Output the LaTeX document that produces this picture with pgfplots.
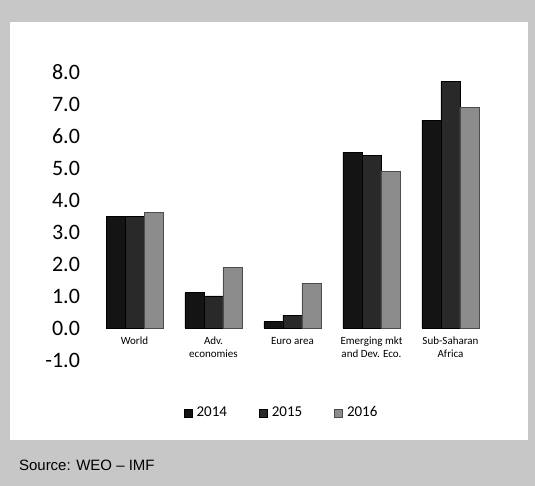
\documentclass[border=0pt]{standalone}
\usepackage{pgfplots}
\pgfplotsset{compat=1.18}
\usepackage{fontspec}
\setmainfont{Carlito}
\newfontfamily\arial{Liberation Sans}

\definecolor{cA}{gray}{0.08}
\definecolor{cB}{gray}{0.16}
\definecolor{cC}{gray}{0.55}
\definecolor{noise}{gray}{0.78}

\begin{document}
\begin{tikzpicture}
  % page frame: grey scanned border and white chart area
  \fill[noise] (0,0) rectangle (267.5pt,243pt);
  \fill[white] (5pt,23pt) rectangle (264pt,232pt);
  \node[anchor=west, font=\arial\fontsize{7.5}{9}\selectfont] at (6pt,10.5pt) {Source: WEO – IMF};

  \begin{axis}[
      at={(47.5pt,63pt)}, anchor=south west,
      scale only axis, width=197.5pt, height=144pt,
      ybar=0pt, bar width=9.5pt,
      xmin=-0.5, xmax=4.5, ymin=-1, ymax=8,
      axis x line=middle, axis y line=left,
      axis line style={draw=none},
      major tick length=0pt,
      xtick=data,
      xticklabels={World, {Adv.\\economies}, Euro area, {Emerging mkt\\and Dev. Eco.}, {Sub-Saharan\\Africa}},
      xticklabel style={align=center, font=\fontsize{5.5}{6.2}\selectfont, anchor=north, yshift=-1pt},
      ytick={-1,0,...,8},
      yticklabel style={font=\fontsize{11}{12}\selectfont, anchor=east, xshift=-4pt},
      /pgf/number format/assume math mode=true,
      /pgf/number format/.cd, fixed, fixed zerofill, precision=1, /pgfplots/.cd,
      legend style={at={(0.475,0)}, anchor=north, yshift=-19pt, draw=none,
        font=\fontsize{7.5}{9}\selectfont, legend columns=3,
        /tikz/every even column/.append style={column sep=14pt}},
      legend image code/.code={\fill[#1] (0pt,-2pt) rectangle (4pt,2pt);},
    ]
    \addplot[fill=cA, draw=black] coordinates {(0,3.5) (1,1.1) (2,0.2) (3,5.5) (4,6.5)};
    \addlegendentry{2014}
    \addplot[fill=cB, draw=black] coordinates {(0,3.5) (1,1.0) (2,0.4) (3,5.4) (4,7.7)};
    \addlegendentry{2015}
    \addplot[fill=cC, draw=black!70] coordinates {(0,3.6) (1,1.9) (2,1.4) (3,4.9) (4,6.9)};
    \addlegendentry{2016}
  \end{axis}
\end{tikzpicture}
\end{document}
